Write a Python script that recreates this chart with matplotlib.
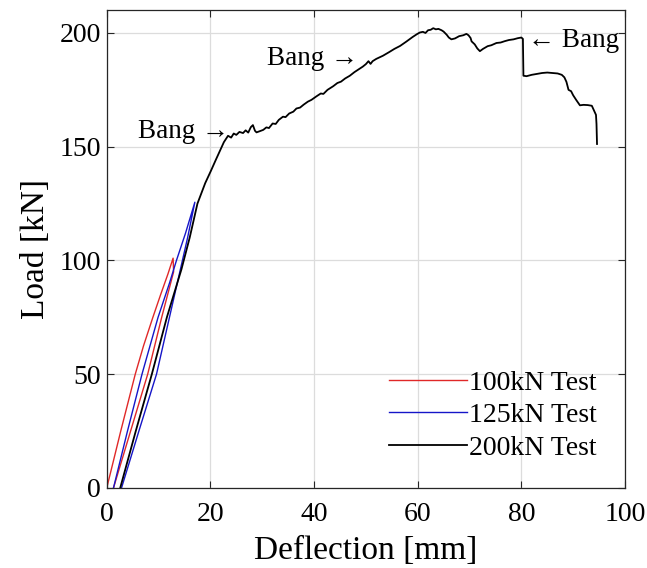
import matplotlib
matplotlib.use('Agg')
import matplotlib.pyplot as plt

plt.rcParams['font.family'] = ['Liberation Serif', 'DejaVu Serif']

# 100kN test: load then unload
x100 = [0.0, 1.3, 2.7, 4.1, 5.5, 7.1, 8.9, 10.4, 11.8, 12.8, 12.9, 10.6, 7.9, 4.6, 1.3]
y100 = [0, 12, 25, 37.5, 50, 62.5, 75, 85, 94, 101, 95, 75, 50, 25, 0]

# 125kN test: load then unload
x125 = [1.3, 4.0, 6.8, 9.9, 12.1, 13.45, 15.2, 17.0, 15.6, 14.0, 12.1, 9.6, 6.2, 2.85]
y125 = [0, 25, 50, 75, 90, 100, 112, 125.6, 110, 94, 75, 50, 25, 0]

# 200kN test: load to failure
x200 = [2.6, 5.6, 8.7, 11.6, 14.4, 16.0, 17.5, 19.0, 20.1, 21.0, 21.8, 22.6, 23.4, 24.0,
        24.5, 25.0, 25.6, 26.3, 26.8, 27.3, 27.8, 28.2, 28.6, 28.9, 29.5, 30.2, 30.8, 31.3,
        32.0, 32.6, 33.2, 34.0, 34.5, 35.2, 36.0, 36.6, 37.3, 38.0, 38.8, 39.5, 40.5, 41.3,
        41.8, 42.6, 43.7, 44.5, 45.2, 46.0, 46.9, 47.8, 48.6, 49.4, 50.0, 50.5, 50.9, 51.3,
        52.0, 53.3, 54.5, 55.5, 56.6, 57.8, 59.0, 59.8, 60.4, 61.0, 61.5, 62.0, 62.5, 63.0,
        63.5, 64.0, 64.6, 65.0, 65.6, 66.0, 66.5, 67.2, 68.0, 68.8, 69.4, 69.8, 70.2, 70.4,
        71.0, 71.5, 72.0, 72.6, 73.5, 74.2, 75.2, 76.0, 76.8, 77.6, 78.5, 79.3, 80.0, 80.3,
        80.4, 81.0, 82.0, 83.0, 84.0, 85.0, 86.0, 87.0, 87.8, 88.3, 88.7, 89.1, 89.6, 90.0,
        90.6, 91.3, 92.0, 92.8, 93.6, 94.0, 94.4, 94.5, 94.6]
y200 = [0, 25, 50, 75, 96, 110, 125, 134, 139.4, 144, 148, 152, 154.8, 154.0,
        155.8, 155.2, 156.5, 156.0, 157.2, 156.2, 158.6, 159.5, 157.0, 156.3, 156.8, 157.4, 158.5, 158.2,
        160.2, 160.0, 161.8, 163.2, 163.0, 164.6, 165.4, 166.8, 167.2, 168.5, 169.8, 170.6, 172.2, 173.4,
        173.2, 175.0, 176.6, 178.0, 178.6, 180.0, 181.2, 182.8, 184.0, 185.2, 186.3, 187.6, 186.4, 187.6,
        188.6, 190.0, 191.6, 193.0, 194.3, 196.2, 198.2, 199.4, 200.2, 200.5, 200.0, 201.2, 201.4, 202.1,
        201.6, 201.8, 201.2, 200.6, 199.2, 198.0, 197.2, 197.6, 198.6, 199.0, 199.6, 199.0, 197.8, 196.3,
        195.0, 193.2, 192.0, 193.0, 194.2, 194.6, 195.6, 195.8, 196.4, 196.9, 197.2, 197.7, 198.0, 197.4,
        181.2, 181.0, 181.6, 182.0, 182.4, 182.6, 182.4, 182.2, 181.6, 180.5, 178.5, 175.0, 174.4, 172.6,
        170.5, 168.2, 168.4, 168.3, 168.0, 166.0, 164.0, 160.0, 151.2]

labels = ['100kN Test', '125kN Test', '200kN Test']
colors = ['#e02828', '#1515c8', 'black']

notes = ['Bang \u2192', 'Bang \u2192', '\u2190 Bang']
note_x = [6.0, 31.0, 81.2]
note_y = [156.6, 188.7, 196.8]

fig = plt.figure(figsize=(6.47, 5.68), dpi=100)
ax = fig.add_axes([0.165, 0.141, 0.801, 0.841])

ax.plot(x100, y100, color=colors[0], lw=1.0, label=labels[0])
ax.plot(x125, y125, color=colors[1], lw=1.0, label=labels[1])
ax.plot(x200, y200, color=colors[2], lw=1.3, label=labels[2])

for t, tx, ty in zip(notes, note_x, note_y):
    ax.text(tx, ty, t, fontsize=19.5, ha='left', va='center')

ax.set_xlim(0, 100)
ax.set_ylim(0, 210)
ax.set_xticks([0, 20, 40, 60, 80, 100])
ax.set_yticks([0, 50, 100, 150, 200])
ax.grid(True, color='#dcdcdc', lw=0.9)
ax.set_axisbelow(True)
ax.tick_params(direction='in', top=True, right=True, labelsize=20, length=5,
               width=0.8, color='#262626')
ax.tick_params(axis='x', pad=10)
ax.tick_params(axis='y', pad=4)
for s in ax.spines.values():
    s.set_color('#262626')
    s.set_linewidth(0.9)

ax.set_xlabel('Deflection [mm]', fontsize=24, labelpad=6)
ax.set_ylabel('Load [kN]', fontsize=24, labelpad=6)

ax.legend(loc='lower right', bbox_to_anchor=(0.966, 0.034), frameon=False,
          fontsize=20, handlelength=2.8, handletextpad=0.05, labelspacing=0.25,
          borderaxespad=0.0)

fig.savefig('out.png', dpi=100)
